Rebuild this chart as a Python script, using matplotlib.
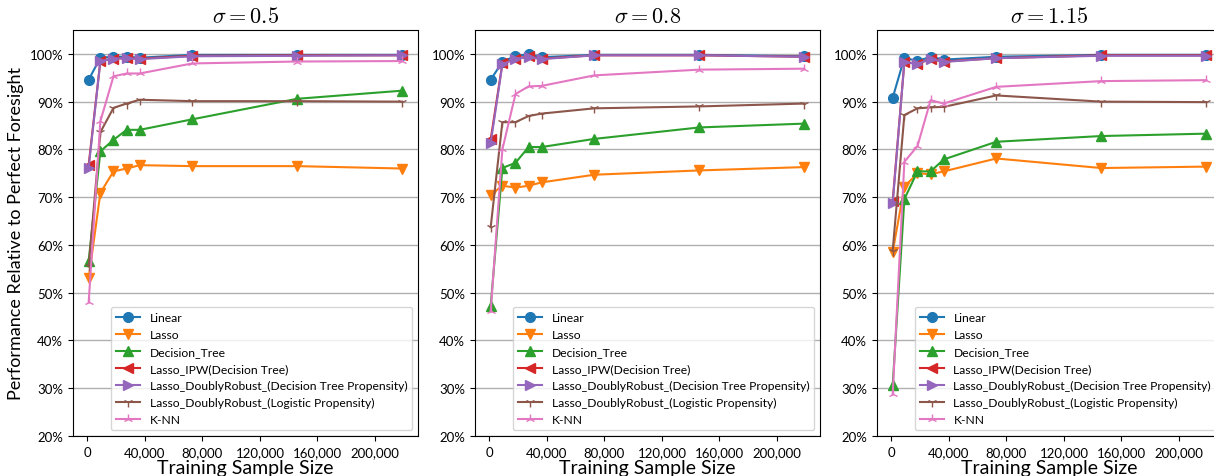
import numpy as np
import matplotlib.pyplot as plt
from matplotlib.ticker import FuncFormatter

plt.rcParams['mathtext.fontset'] = 'cm'
plt.rcParams['font.family'] = ['Lato', 'DejaVu Sans']

sample_sizes = [1000, 9125, 18250, 27375, 36500, 73000, 146000, 219000]
sigmas = ['0.5', '0.8', '1.15']
methods = ['Linear', 'Lasso', 'Decision_Tree', 'Lasso_IPW(Decision Tree)',
           'Lasso_DoublyRobust_(Decision Tree Propensity)',
           'Lasso_DoublyRobust_(Logistic Propensity)', 'K-NN']
markers = ['o', 'v', '^', '<', '>', '1', '2']

# performance (%) per sigma, one list per method
perf_05 = [
    [94.6, 99.2, 99.4, 99.4, 99.2, 99.8, 99.8, 99.8],
    [53.0, 70.9, 75.4, 76.0, 76.7, 76.5, 76.5, 76.0],
    [56.7, 79.6, 82.0, 84.1, 84.1, 86.3, 90.6, 92.3],
    [76.8, 98.5, 99.0, 99.1, 99.0, 99.6, 99.7, 99.7],
    [76.2, 98.5, 99.0, 99.1, 98.9, 99.5, 99.6, 99.7],
    [55.5, 83.6, 88.7, 89.6, 90.4, 90.1, 90.1, 90.0],
    [48.0, 85.9, 95.3, 95.9, 95.9, 98.0, 98.4, 98.5],
]
perf_08 = [
    [94.6, 98.3, 99.6, 99.9, 99.3, 99.8, 99.8, 99.5],
    [70.5, 72.4, 72.0, 72.4, 73.1, 74.7, 75.6, 76.3],
    [47.2, 76.1, 77.2, 80.5, 80.5, 82.2, 84.6, 85.4],
    [82.1, 98.0, 99.0, 99.5, 99.0, 99.7, 99.7, 99.4],
    [81.3, 97.8, 99.0, 99.3, 98.9, 99.7, 99.7, 99.4],
    [63.7, 85.7, 85.7, 87.0, 87.5, 88.6, 89.0, 89.6],
    [46.1, 80.0, 91.6, 93.2, 93.3, 95.5, 96.7, 96.9],
]
perf_115 = [
    [90.8, 99.2, 98.5, 99.4, 98.8, 99.4, 99.8, 99.8],
    [58.5, 72.2, 75.0, 74.8, 75.4, 78.1, 76.1, 76.4],
    [30.6, 69.6, 75.4, 75.4, 77.9, 81.6, 82.8, 83.3],
    [69.2, 98.3, 97.9, 99.0, 98.4, 99.1, 99.7, 99.7],
    [68.7, 98.3, 97.9, 98.9, 98.3, 99.1, 99.6, 99.6],
    [58.8, 87.2, 88.6, 88.8, 88.9, 91.3, 90.0, 89.9],
    [28.7, 77.4, 80.7, 90.3, 89.6, 93.1, 94.3, 94.5],
]
all_perf = [perf_05, perf_08, perf_115]

fig = plt.figure(figsize=(12.14, 4.77), dpi=100)
lefts = [73, 475, 877]
for k in range(3):
    ax = fig.add_axes([lefts[k] / 1214, 40 / 477, 345 / 1214, 406 / 477])
    for name, mk, vals in zip(methods, markers, all_perf[k]):
        ax.plot(sample_sizes, np.array(vals) / 100, marker=mk, markersize=7,
                linewidth=1.5, label=name)
    ax.set_ylim(0.2, 1.05)
    ax.set_yticks(np.arange(0.2, 1.01, 0.1))
    ax.yaxis.set_major_formatter(FuncFormatter(lambda v, p: '{:.0f}%'.format(v * 100)))
    ax.set_xticks([0, 40000, 80000, 120000, 160000, 200000])
    ax.xaxis.set_major_formatter(FuncFormatter(lambda v, p: '{:,.0f}'.format(v)))
    ax.tick_params(labelsize=9.5)
    ax.grid(axis='y', color='#b0b0b0', linewidth=1)
    ax.set_axisbelow(True)
    ax.set_title(r'$\sigma = ' + sigmas[k] + '$', fontsize=16)
    ax.set_xlabel('Training Sample Size', fontsize=14, labelpad=1)
    ax.legend(loc='lower right', fontsize=8.7)
    if k == 0:
        ax.set_ylabel('Performance Relative to Perfect Foresight', fontsize=13)

plt.savefig('out.png', dpi=100)
